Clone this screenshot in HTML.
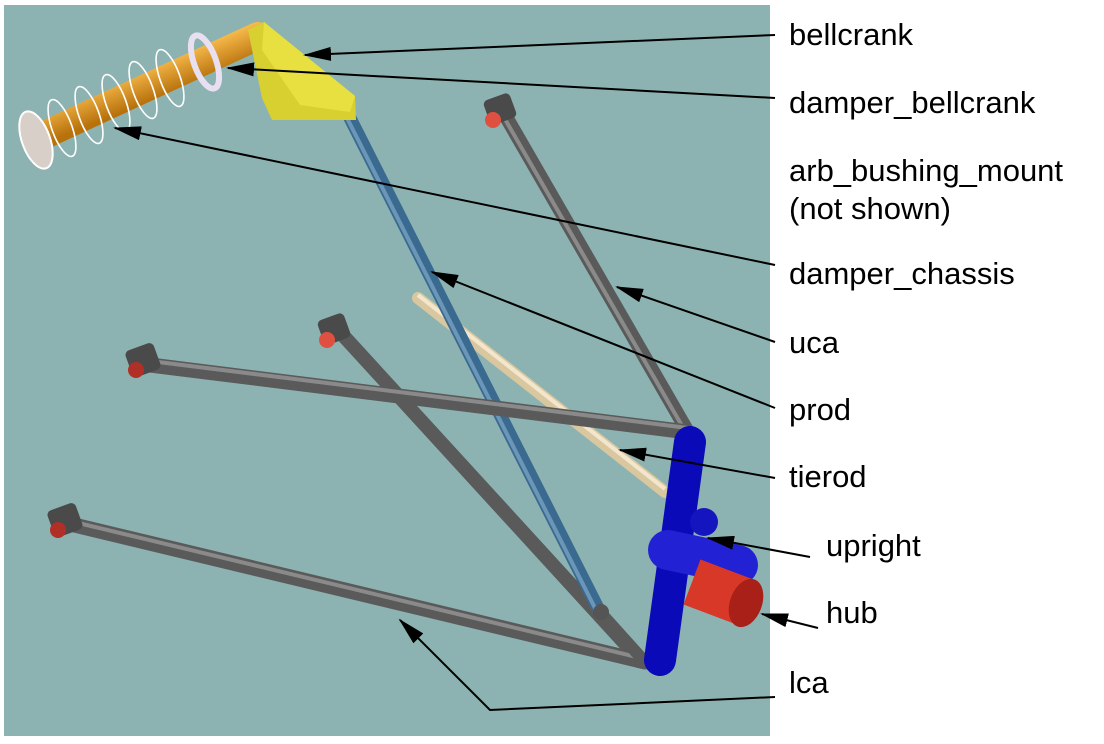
<!DOCTYPE html>
<html><head><meta charset="utf-8"><style>
html,body{margin:0;padding:0;background:#fff;width:1104px;height:744px;overflow:hidden}
svg{display:block}
text{font-family:"Liberation Sans",sans-serif;font-size:31px;fill:#000}
</style></head><body>
<svg width="1104" height="744" viewBox="0 0 1104 744">
<defs>
<marker id="ah" markerWidth="28" markerHeight="14" refX="26" refY="7" orient="auto" markerUnits="userSpaceOnUse" viewBox="0 0 28 14">
<path d="M0,0 L28,7 L0,14 Z" fill="#000"/></marker>
<linearGradient id="orange" gradientUnits="userSpaceOnUse" x1="140" y1="70" x2="152" y2="100"><stop offset="0" stop-color="#f5b84a"/><stop offset="1" stop-color="#b8720c"/></linearGradient>
</defs>
<rect x="4" y="5" width="766" height="731" fill="#8cb3b1"/>
<g>
<line x1="505" y1="115" x2="688" y2="432" stroke="#5a5a5a" stroke-width="14" stroke-linecap="round"/>
<line x1="502" y1="114" x2="685" y2="431" stroke="#8a8a8a" stroke-width="4"/>
</g>
<g>
<line x1="418" y1="298" x2="665" y2="492" stroke="#d9c7a0" stroke-width="12" stroke-linecap="round"/>
<line x1="418" y1="295" x2="665" y2="489" stroke="#f3e6cc" stroke-width="4"/>
</g>
<g>
<line x1="340" y1="332" x2="640" y2="660" stroke="#5a5a5a" stroke-width="14" stroke-linecap="round"/>
<line x1="70" y1="524" x2="645" y2="662" stroke="#5a5a5a" stroke-width="15" stroke-linecap="round"/>
<line x1="70" y1="521" x2="645" y2="659" stroke="#8a8a8a" stroke-width="4"/>
<line x1="600" y1="612" x2="645" y2="662" stroke="#5a5a5a" stroke-width="12" stroke-linecap="round"/>
</g>
<g>
<line x1="350" y1="118" x2="600" y2="612" stroke="#3a6a90" stroke-width="13" stroke-linecap="round"/>
<line x1="347" y1="118" x2="597" y2="612" stroke="#6b96b8" stroke-width="4"/>
<circle cx="601" cy="612" r="8" fill="#555"/>
</g>
<g>
<line x1="150" y1="365" x2="688" y2="432" stroke="#5a5a5a" stroke-width="15" stroke-linecap="round"/>
<line x1="150" y1="361" x2="688" y2="428" stroke="#8a8a8a" stroke-width="4"/>
</g>
<g>
<rect x="486" y="96" width="28" height="26" rx="5" fill="#4a4a4a" transform="rotate(-20 500 109)"/><circle cx="493" cy="120" r="8" fill="#e05040"/>
<rect x="320" y="316" width="28" height="26" rx="5" fill="#4a4a4a" transform="rotate(-20 334 329)"/><circle cx="327" cy="340" r="8" fill="#e05040"/>
<rect x="128" y="346" width="30" height="28" rx="5" fill="#4a4a4a" transform="rotate(-20 143 360)"/><circle cx="136" cy="370" r="8" fill="#b03028"/>
<rect x="50" y="506" width="30" height="28" rx="5" fill="#4a4a4a" transform="rotate(-20 65 520)"/><circle cx="58" cy="530" r="8" fill="#b03028"/>
</g>
<g>
<line x1="690" y1="442" x2="660" y2="660" stroke="#0a0ab8" stroke-width="32" stroke-linecap="round"/>
<circle cx="704" cy="522" r="14" fill="#1515c0"/>
<line x1="668" y1="550" x2="738" y2="565" stroke="#2222d4" stroke-width="40" stroke-linecap="round"/>
</g>
<g>
<line x1="692" y1="582" x2="745" y2="602" stroke="#d83828" stroke-width="48"/>
<ellipse cx="746" cy="603" rx="16" ry="25" fill="#a82018" transform="rotate(20 746 603)"/>
</g>
<g>
<line x1="38" y1="138" x2="258" y2="36" stroke="url(#orange)" stroke-width="28" stroke-linecap="round"/>
<ellipse cx="36" cy="140" rx="14" ry="30" fill="#d8cfc8" stroke="#fff" stroke-width="2" transform="rotate(-20 36 140)"/>
<ellipse cx="205" cy="62" rx="11" ry="28" fill="none" stroke="#e8e0f0" stroke-width="6" transform="rotate(-20 205 62)"/>
<g fill="none" stroke="#fff" stroke-width="1.6">
<ellipse cx="62" cy="128" rx="10" ry="30" transform="rotate(-20 62 128)"/>
<ellipse cx="89" cy="115" rx="10" ry="30" transform="rotate(-20 89 115)"/>
<ellipse cx="116" cy="103" rx="10" ry="30" transform="rotate(-20 116 103)"/>
<ellipse cx="143" cy="90" rx="10" ry="30" transform="rotate(-20 143 90)"/>
<ellipse cx="170" cy="78" rx="10" ry="30" transform="rotate(-20 170 78)"/>
</g>
</g>
<g>
<polygon points="248,30 264,22 355,96 356,120 272,120 262,98" fill="#d8d030"/>
<polygon points="264,22 355,96 350,112 300,105 262,50" fill="#e8e040"/>
</g>
<g stroke="#000" stroke-width="2" fill="none">
<line x1="775" y1="35" x2="305" y2="55" marker-end="url(#ah)"/>
<line x1="775" y1="98" x2="228" y2="68" marker-end="url(#ah)"/>
<line x1="775" y1="265" x2="115" y2="128" marker-end="url(#ah)"/>
<line x1="775" y1="342" x2="617" y2="287" marker-end="url(#ah)"/>
<line x1="775" y1="408" x2="432" y2="272" marker-end="url(#ah)"/>
<line x1="775" y1="478" x2="620" y2="450" marker-end="url(#ah)"/>
<line x1="810" y1="557" x2="708" y2="538" marker-end="url(#ah)"/>
<line x1="818" y1="628" x2="762" y2="614" marker-end="url(#ah)"/>
<polyline points="775,697 490,710 400,620" marker-end="url(#ah)"/>
</g>
<g>
<text x="789" y="45">bellcrank</text>
<text x="789" y="113">damper_bellcrank</text>
<text x="789" y="181">arb_bushing_mount</text>
<text x="789" y="219">(not shown)</text>
<text x="789" y="284">damper_chassis</text>
<text x="789" y="353">uca</text>
<text x="789" y="420">prod</text>
<text x="789" y="487">tierod</text>
<text x="826" y="556">upright</text>
<text x="826" y="623">hub</text>
<text x="789" y="693">lca</text>
</g>
</svg>
</body></html>
